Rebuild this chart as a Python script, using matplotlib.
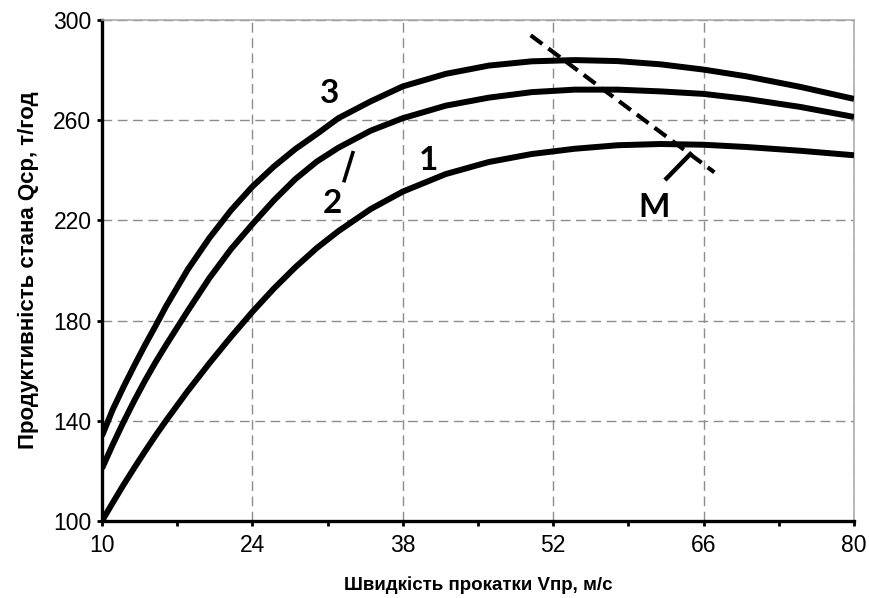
import matplotlib.pyplot as plt

# Швидкість прокатки, м/с
speed = [10, 11, 12, 13, 14, 15, 16, 18, 20, 22, 24, 26, 28, 30, 32, 35,
         38, 42, 46, 50, 54, 58, 62, 66, 70, 75, 80]

# Продуктивність стана, т/год, for curves 1, 2, 3
curve_1 = [100, 107.3, 114.4, 121.2, 127.8, 134.2, 140.3, 152, 163, 173.5,
           183.5, 192.8, 201.3, 209, 215.7, 224.5, 231.5, 238.5, 243.3,
           246.5, 248.6, 250, 250.5, 250.2, 249.3, 247.8, 246]
curve_2 = [121, 130.5, 139.5, 148, 156, 163.5, 170.5, 184, 197, 208.5,
           218.5, 228, 236.5, 243.5, 249, 255.8, 260.8, 265.8, 269, 271.2,
           272.2, 272.2, 271.5, 270.5, 268.5, 265.3, 261.3]
curve_3 = [134, 144.5, 153.5, 162, 170.2, 178, 186, 200.5, 213, 224,
           233.5, 241.5, 248.5, 254.5, 260.8, 267.5, 273.5, 278.5, 281.8,
           283.5, 284, 283.6, 282.3, 280.2, 277.5, 273.3, 268.5]

x_ticks = [10, 24, 38, 52, 66, 80]
x_minor = [17, 31, 45, 59, 73]
y_ticks = [100, 140, 180, 220, 260, 300]

# line through the maxima (M) and the two leader strokes
m_line_x = [49.9, 67.0]
m_line_y = [293.9, 239.2]
m_leader_x = [62.4, 64.9]
m_leader_y = [236.1, 247.1]
leader2_x = [32.5, 33.4]
leader2_y = [235.2, 247.7]

fig = plt.figure(figsize=(8.7, 5.98), dpi=100)
ax = fig.add_axes([102 / 870, 1 - 521 / 598, 752 / 870, 501 / 598])

for ys in (curve_1, curve_2, curve_3):
    ax.plot(speed, ys, color='black', linewidth=4.3, solid_capstyle='butt',
            solid_joinstyle='round', zorder=3)

ax.plot(m_line_x, m_line_y, color='black', linewidth=3, linestyle=(0, (3.5, 1.8)), zorder=4)
ax.plot(m_leader_x, m_leader_y, color='black', linewidth=3.2, solid_capstyle='butt', zorder=4)
ax.plot(leader2_x, leader2_y, color='black', linewidth=2.6, solid_capstyle='butt', zorder=4)

lbl = dict(fontsize=24, fontweight='bold', family=['Lato', 'DejaVu Sans'],
           ha='center', va='baseline', zorder=5)
ax.text(31.2, 266.7, '3', **lbl)
ax.text(31.4, 222.8, '2', **lbl)
ax.text(40.4, 240.1, '1', **lbl)
ax.text(61.4, 221.4, 'M', **lbl)

ax.set_xlim(10, 80)
ax.set_ylim(100, 300)
ax.set_xticks(x_ticks)
ax.set_xticks(x_minor, minor=True)
ax.set_yticks(y_ticks)

ax.grid(True, which='major', color='#8c8c8c', linestyle=(0, (7, 4)), linewidth=1.0, zorder=1)

for side in ('left', 'bottom'):
    ax.spines[side].set_linewidth(2.4)
    ax.spines[side].set_color('black')
for side in ('top', 'right'):
    ax.spines[side].set_linewidth(1.1)
    ax.spines[side].set_color('#a6a6a6')

tick_font = ['Liberation Sans', 'DejaVu Sans']
ax.tick_params(axis='both', which='major', direction='out', length=3.6, width=2,
               labelsize=16.5, color='black')
ax.tick_params(axis='x', which='major', pad=5.5)
ax.tick_params(axis='y', which='major', pad=4)
ax.tick_params(axis='x', which='minor', direction='out', length=3.6, width=2, color='black')
for t in ax.get_xticklabels() + ax.get_yticklabels():
    t.set_family(tick_font)

ax.set_xlabel('Швидкість прокатки Vпр, м/с', fontsize=13.5, fontweight='bold',
              family=tick_font, labelpad=14)
ax.set_ylabel('Продуктивність стана Qср, т/год', fontsize=16, fontweight='bold',
              family=tick_font, labelpad=10)

fig.savefig('out.png', dpi=100)
